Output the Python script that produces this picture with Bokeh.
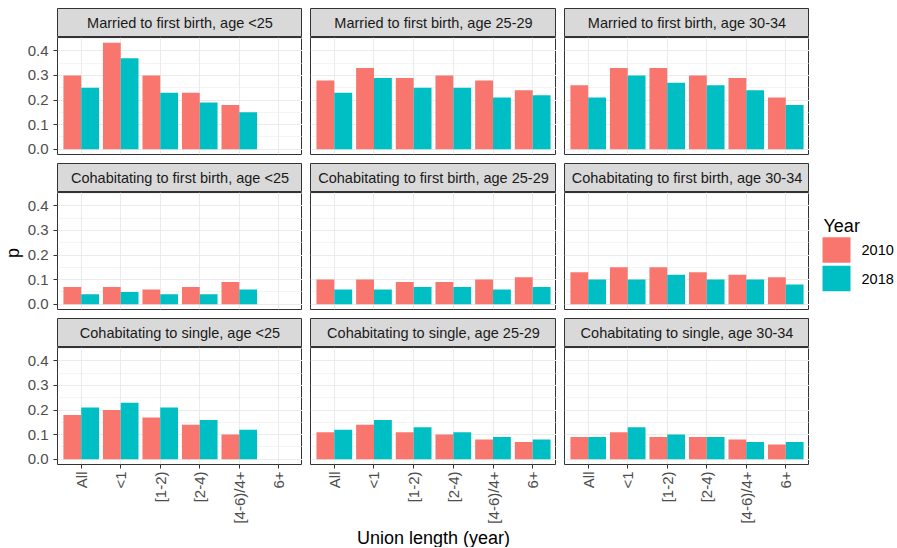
import math
import numpy as np
from bokeh.plotting import figure
from bokeh.layouts import row, column
from bokeh.models import Range1d, FactorRange, FixedTicker, ColumnDataSource, PrintfTickFormatter, Spacer
from bokeh.transform import dodge
from bokeh.core.properties import value
from bokeh.embed import file_html
from bokeh.resources import INLINE

nan = np.nan

# ---------------- data ----------------
categories = ["All", "<1", "[1-2)", "[2-4)", "[4-6)/4+", "6+"]
years = ["2010", "2018"]
year_colors = ["#F8766D", "#00BFC4"]
transitions = ["Married to first birth", "Cohabitating to first birth", "Cohabitating to single"]
age_groups = ["<25", "25-29", "30-34"]
y_ticks = [0.0, 0.1, 0.2, 0.3, 0.4]
y_minor_ticks = [0.05, 0.15, 0.25, 0.35, 0.45]
x_title = "Union length (year)"
y_title = "p"
legend_title = "Year"

married_birth_u25_2010 = [0.30, 0.433, 0.30, 0.23, 0.18, nan]
married_birth_u25_2018 = [0.25, 0.37, 0.23, 0.19, 0.15, nan]
married_birth_25_29_2010 = [0.28, 0.33, 0.29, 0.30, 0.28, 0.24]
married_birth_25_29_2018 = [0.23, 0.29, 0.25, 0.25, 0.21, 0.22]
married_birth_30_34_2010 = [0.26, 0.33, 0.33, 0.30, 0.29, 0.21]
married_birth_30_34_2018 = [0.21, 0.30, 0.27, 0.26, 0.24, 0.18]

cohab_birth_u25_2010 = [0.07, 0.07, 0.06, 0.07, 0.09, nan]
cohab_birth_u25_2018 = [0.04, 0.05, 0.04, 0.04, 0.06, nan]
cohab_birth_25_29_2010 = [0.10, 0.10, 0.09, 0.09, 0.10, 0.11]
cohab_birth_25_29_2018 = [0.06, 0.06, 0.07, 0.07, 0.06, 0.07]
cohab_birth_30_34_2010 = [0.13, 0.15, 0.15, 0.13, 0.12, 0.11]
cohab_birth_30_34_2018 = [0.10, 0.10, 0.12, 0.10, 0.10, 0.08]

cohab_single_u25_2010 = [0.18, 0.20, 0.17, 0.14, 0.10, nan]
cohab_single_u25_2018 = [0.21, 0.23, 0.21, 0.16, 0.12, nan]
cohab_single_25_29_2010 = [0.11, 0.14, 0.11, 0.10, 0.08, 0.07]
cohab_single_25_29_2018 = [0.12, 0.16, 0.13, 0.11, 0.09, 0.08]
cohab_single_30_34_2010 = [0.09, 0.11, 0.09, 0.09, 0.08, 0.06]
cohab_single_30_34_2018 = [0.09, 0.13, 0.10, 0.09, 0.07, 0.07]

series = [
    [(married_birth_u25_2010, married_birth_u25_2018),
     (married_birth_25_29_2010, married_birth_25_29_2018),
     (married_birth_30_34_2010, married_birth_30_34_2018)],
    [(cohab_birth_u25_2010, cohab_birth_u25_2018),
     (cohab_birth_25_29_2010, cohab_birth_25_29_2018),
     (cohab_birth_30_34_2010, cohab_birth_30_34_2018)],
    [(cohab_single_u25_2010, cohab_single_u25_2018),
     (cohab_single_25_29_2010, cohab_single_25_29_2018),
     (cohab_single_30_34_2010, cohab_single_30_34_2018)],
]

# ---------------- layout / style ----------------
FONT = "Liberation Sans"
TOP = 8
STRIP_H, PANEL_H, GAP, AXIS_H = 29, 117, 9, 62
FRAME_W = [245, 246, 245]
YT_W = 24
LEFT_B = [33, 8, 8]
LEG_W, XT_H = 87, 21
COL_H = 3 * STRIP_H + 3 * PANEL_H + 2 * GAP + AXIS_H
BORDER = "#333333"
GRID = "#EBEBEB"

all_vals = np.concatenate([np.array(v, dtype=float) for rr in series for pair in rr for v in pair])
ymax = float(np.nanmax(all_vals))
pad = 0.05 * ymax


def plain_fig(w, h, xr, yr, **kw):
    f = figure(width=w, height=h, x_range=xr, y_range=yr,
               x_axis_location=None, y_axis_location=None,
               output_backend="svg", toolbar_location=None,
               min_border_left=0, min_border_right=0, min_border_top=0, min_border_bottom=0,
               border_fill_color="white", **kw)
    f.grid.visible = False
    return f


def strip_fig(text, c):
    s = figure(width=LEFT_B[c] + FRAME_W[c], height=STRIP_H,
               x_range=Range1d(0, 1), y_range=Range1d(0, 1),
               x_axis_location=None, y_axis_location=None,
               output_backend="svg", toolbar_location=None,
               min_border_left=LEFT_B[c], min_border_right=0, min_border_top=0, min_border_bottom=0,
               background_fill_color="#D9D9D9", border_fill_color="white",
               outline_line_color=BORDER, outline_line_width=1)
    s.grid.visible = False
    s.text(x=[0.5], y=[0.5], text=[text], text_align="center", text_baseline="middle",
           text_font=value(FONT), text_font_size="14.5px", text_color="#1A1A1A")
    return s


def panel_fig(r, c, v2010, v2018):
    bottom = r == 2
    left = c == 0
    bb = AXIS_H if bottom else GAP
    p = figure(width=LEFT_B[c] + FRAME_W[c], height=PANEL_H + bb,
               x_range=FactorRange(factors=categories, range_padding=0.2 / len(categories),
                                   range_padding_units="percent"),
               y_range=Range1d(-pad, ymax + pad),
               output_backend="svg", toolbar_location=None,
               min_border_left=LEFT_B[c], min_border_right=0, min_border_top=0, min_border_bottom=bb,
               background_fill_color="white", border_fill_color="white",
               outline_line_color=BORDER, outline_line_width=1)
    p.yaxis.ticker = FixedTicker(ticks=y_ticks, minor_ticks=y_minor_ticks)
    p.yaxis.formatter = PrintfTickFormatter(format="%.1f")
    p.xaxis.visible = bottom
    p.yaxis.visible = left
    p.xgrid.grid_line_color = GRID
    p.xgrid.grid_line_width = 1.1
    p.ygrid.grid_line_color = GRID
    p.ygrid.grid_line_width = 1.1
    p.ygrid.minor_grid_line_color = GRID
    p.ygrid.minor_grid_line_width = 0.55
    p.axis.axis_line_color = None
    p.axis.major_tick_line_color = BORDER
    p.axis.major_tick_out = 4
    p.axis.major_tick_in = 0
    p.axis.minor_tick_line_color = None
    p.axis.major_label_text_font = FONT
    p.axis.major_label_text_font_size = "15px"
    p.axis.major_label_text_color = "#4D4D4D"
    p.yaxis.major_label_standoff = 5
    p.xaxis.major_label_standoff = 3
    p.xaxis.major_label_orientation = math.pi / 2

    src = ColumnDataSource(dict(cat=categories,
                                y2010=np.array(v2010, dtype=float),
                                y2018=np.array(v2018, dtype=float)))
    p.vbar(x=dodge("cat", -0.225, range=p.x_range), top="y2010", bottom=0, width=0.45,
           source=src, fill_color=year_colors[0], line_color=None)
    p.vbar(x=dodge("cat", 0.225, range=p.x_range), top="y2018", bottom=0, width=0.45,
           source=src, fill_color=year_colors[1], line_color=None)
    return p


cols = []
for c in range(3):
    kids = []
    for r in range(3):
        kids.append(strip_fig(f"{transitions[r]}, age {age_groups[c]}", c))
        kids.append(panel_fig(r, c, *series[r][c]))
    cols.append(column(*kids))

# y title
yt = plain_fig(YT_W, COL_H, Range1d(0, YT_W), Range1d(0, COL_H), outline_line_color=None)
y_center = COL_H - (STRIP_H + PANEL_H + GAP + STRIP_H + PANEL_H / 2) - 2
yt.text(x=[12.5], y=[y_center], text=[y_title], angle=math.pi / 2, text_align="center",
        text_baseline="middle", text_font=value(FONT), text_font_size="18px", text_color="black")

# legend
lg = plain_fig(LEG_W, COL_H, Range1d(0, LEG_W), Range1d(0, COL_H), outline_line_color=None)
lg.text(x=[14], y=[COL_H - 217], text=[legend_title], text_align="left", text_baseline="alphabetic",
        text_font=value(FONT), text_font_size="18px", text_color="black")
key_y = [COL_H - (241.5 + 28.5 * i) for i in range(len(years))]
lg.rect(x=[27] * len(years), y=key_y, width=28, height=25.5, fill_color=year_colors, line_color=None)
lg.text(x=[52] * len(years), y=key_y, text=years, text_align="left", text_baseline="middle",
        text_font=value(FONT), text_font_size="14.5px", text_color="black")

# x title
total_w = YT_W + sum(LEFT_B) + sum(FRAME_W) + LEG_W
xt = plain_fig(total_w, XT_H, Range1d(0, total_w), Range1d(0, XT_H), outline_line_color=None)
x_center = YT_W + LEFT_B[0] + (sum(FRAME_W) + LEFT_B[1] + LEFT_B[2]) / 2
xt.text(x=[x_center], y=[XT_H - 11], text=[x_title], text_align="center", text_baseline="middle",
        text_font=value(FONT), text_font_size="18px", text_color="black")

layout = column(Spacer(width=total_w, height=TOP), row(yt, *cols, lg), xt)
open("out.html", "w").write(file_html(layout, INLINE))
